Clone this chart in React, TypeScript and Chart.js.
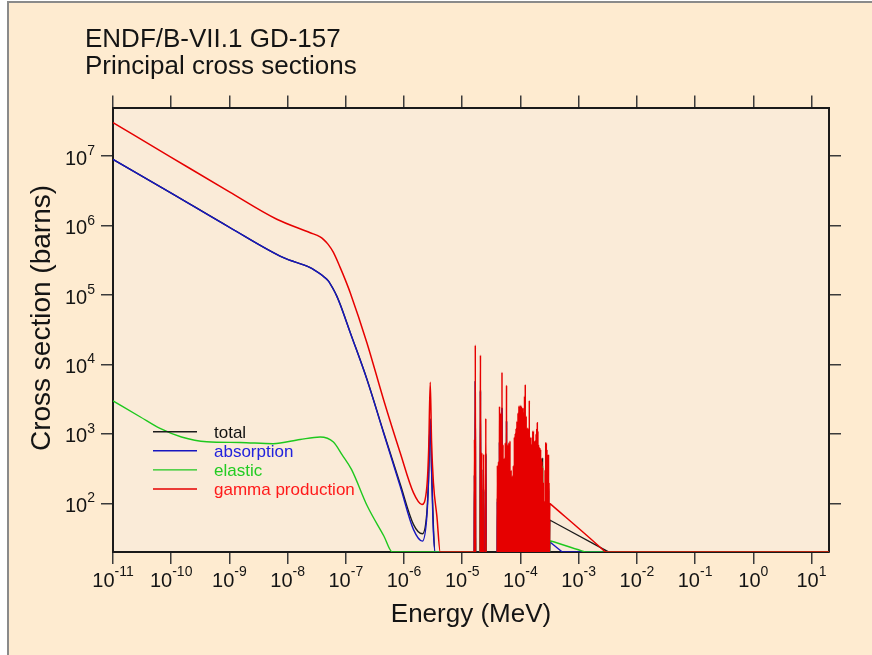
import React, { useEffect, useRef } from "react";
import { Chart, registerables } from "chart.js";

Chart.register(...registerables);

// ---------------- axis ranges & ticks ----------------
const X_MIN = 1e-11;
const X_MAX = 20;
const Y_MIN = 20;
const Y_MAX = 5e7;
const VALLEY = 10; // cross section between resolved resonances (below plot floor)
const xTickExponents = [-11, -10, -9, -8, -7, -6, -5, -4, -3, -2, -1, 0, 1];
const yTickExponents = [2, 3, 4, 5, 6, 7];

const titleLines = ["ENDF/B-VII.1 GD-157", "Principal cross sections"];
const xAxisTitle = "Energy (MeV)";
const yAxisTitle = "Cross section (barns)";
const seriesNames = ["total", "absorption", "elastic", "gamma production"];

// ---------------- low-energy (smooth) part, MeV / barns ----------------
const gammaLowE = [1e-11, 1e-10, 1e-9, 6.52e-9, 2.44e-8, 3.62e-8, 4.12e-8, 4.97e-8, 6.12e-8, 7.98e-8, 9.72e-8, 1.19e-7, 2.3e-7, 4.44e-7, 8.59e-7, 1.45e-6, 2.03e-6, 2.47e-6, 2.65e-6, 2.82e-6, 2.97e-6, 3.2e-6, 3.67e-6, 4.19e-6];
const gammaLowXS = [3.03e7, 9.6e6, 3.05e6, 1.23e6, 7.89e5, 6.87e5, 6.32e5, 5.36e5, 4.11e5, 2.5e5, 1.68e5, 1.08e5, 2.06e4, 3.14e3, 537, 143, 96.8, 177, 600, 5570, 800, 199, 65, 20];

const absLowE = [1e-11, 1e-10, 1e-9, 8.48e-9, 2.44e-8, 3.62e-8, 4.12e-8, 4.97e-8, 6.12e-8, 6.95e-8, 7.98e-8, 1.19e-7, 2.3e-7, 4.44e-7, 8.59e-7, 1.45e-6, 2.07e-6, 2.47e-6, 2.63e-6, 2.82e-6, 2.99e-6, 3.2e-6, 3.43e-6];
const absLowXS = [8.96e6, 2.93e6, 9.44e5, 3.44e5, 2.47e5, 2.01e5, 1.85e5, 1.6e5, 1.2e5, 9.7e4, 7.33e4, 2.87e4, 6.1e3, 1.04e3, 177, 42.3, 28.7, 65.6, 199, 1620, 250, 37.8, 20];

const totalLowE = [1e-11, 1e-10, 1e-9, 8.48e-9, 2.44e-8, 3.62e-8, 4.12e-8, 4.97e-8, 6.12e-8, 6.95e-8, 7.98e-8, 1.19e-7, 2.3e-7, 4.44e-7, 8.59e-7, 1.45e-6, 2.07e-6, 2.47e-6, 2.63e-6, 2.82e-6, 2.99e-6, 3.2e-6, 3.43e-6];
const totalLowXS = [8.97e6, 2.93e6, 9.45e5, 3.45e5, 2.48e5, 2.02e5, 1.86e5, 1.61e5, 1.21e5, 9.8e4, 7.4e4, 2.9e4, 6.2e3, 1.07e3, 190, 50, 36.6, 75, 215, 1650, 270, 45, 20];

const elasLowE = [1e-11, 2.91e-11, 6.43e-11, 1.5e-10, 4.08e-10, 1.52e-9, 5.64e-9, 1.64e-8, 3.62e-8, 6.12e-8, 8.65e-8, 1.25e-7, 2.35e-7, 4.5e-7, 6.3e-7];
const elasLowXS = [3000, 1770, 1200, 905, 773, 755, 724, 834, 905, 767, 500, 309, 91, 34, 20];

// ---------------- resolved resonances, group A (16-26 eV) ----------------
const resAE = [1.624e-5, 1.677e-5, 2.056e-5, 2.165e-5, 2.333e-5, 2.54e-5];
const gammaA = [835, 19000, 13600, 537, 510, 1670];
const absA = [250, 5800, 4100, 160, 150, 500];
const elasA = [12, 46, 150, 150, 12, 30];
const totalA = [260, 5850, 4250, 310, 160, 530];

// ---------------- resolved resonances, group B (40-310 eV) ----------------
const resBE = [
  4.02e-5, 4.2e-5, 4.37e-5, 4.59e-5, 4.82e-5, 5.02e-5, 5.25e-5, 5.5e-5, 5.77e-5, 6.02e-5,
  6.32e-5, 6.61e-5, 6.92e-5, 7.23e-5, 7.56e-5, 7.86e-5, 8.15e-5, 8.42e-5, 8.71e-5, 9.08e-5,
  9.42e-5, 9.66e-5, 1.002e-4, 1.035e-4, 1.07e-4, 1.104e-4, 1.14e-4, 1.175e-4, 1.21e-4, 1.255e-4,
  1.31e-4, 1.36e-4, 1.42e-4, 1.475e-4, 1.535e-4, 1.585e-4, 1.63e-4, 1.67e-4, 1.715e-4, 1.76e-4,
  1.805e-4, 1.86e-4, 1.905e-4, 1.95e-4, 1.995e-4, 2.045e-4, 2.1e-4, 2.16e-4, 2.22e-4, 2.28e-4,
  2.34e-4, 2.4e-4, 2.47e-4, 2.53e-4, 2.59e-4, 2.655e-4, 2.72e-4, 2.785e-4, 2.85e-4, 2.91e-4,
  2.975e-4, 3.035e-4, 3.095e-4,
];
const gammaB = [
  352, 400, 2490, 2000, 7760, 700, 450, 750, 5000, 700,
  750, 790, 300, 250, 350, 900, 1020, 1200, 1530, 2000,
  2520, 2520, 2600, 2500, 2300, 2390, 2000, 3500, 5170, 1800,
  1230, 1200, 3040, 900, 708, 900, 1100, 1100, 800, 750,
  790, 1000, 1200, 1450, 1100, 708, 650, 634, 600, 450,
  406, 330, 200, 108, 108, 300, 750, 740, 600, 507,
  450, 507, 200,
];
// additional weaker gamma-production resonances lying between the ones above
const gammaFillE = [
  4.11e-5, 4.28e-5, 4.48e-5, 4.7e-5, 4.92e-5, 5.13e-5, 5.37e-5, 5.63e-5, 5.89e-5, 6.17e-5,
  6.46e-5, 6.76e-5, 7.07e-5, 7.39e-5, 7.71e-5, 8.0e-5, 8.28e-5, 8.56e-5, 8.89e-5, 9.25e-5,
  9.54e-5, 9.84e-5, 1.018e-4, 1.052e-4, 1.087e-4, 1.122e-4, 1.157e-4, 1.192e-4, 1.232e-4, 1.282e-4,
  1.335e-4, 1.39e-4, 1.447e-4, 1.505e-4, 1.56e-4, 1.607e-4, 1.65e-4, 1.692e-4, 1.737e-4, 1.782e-4,
  1.832e-4, 1.882e-4, 1.927e-4, 1.972e-4, 2.02e-4, 2.072e-4, 2.13e-4, 2.19e-4, 2.25e-4, 2.31e-4,
  2.37e-4, 2.435e-4, 2.5e-4, 2.56e-4, 2.622e-4, 2.687e-4, 2.752e-4, 2.817e-4, 2.88e-4, 2.942e-4,
  3.005e-4, 3.065e-4,
];
const gammaFillXS = [
  350, 380, 1500, 1800, 650, 420, 430, 700, 650, 680,
  720, 280, 240, 240, 330, 850, 1000, 1150, 1400, 1900,
  2300, 2450, 2400, 2200, 2250, 1900, 1950, 3000, 1700, 1150,
  1100, 1150, 850, 680, 680, 850, 1000, 780, 720, 720,
  760, 950, 1150, 1050, 680, 620, 600, 580, 430, 390,
  310, 190, 100, 100, 100, 290, 700, 580, 480, 430,
  440, 190,
];
const absB = [
  107, 121, 755, 606, 2350, 212, 136, 227, 1515, 212,
  227, 239, 91, 76, 106, 273, 309, 364, 464, 606,
  764, 764, 788, 758, 697, 724, 606, 1060, 1567, 545,
  373, 364, 921, 273, 215, 273, 333, 333, 242, 227,
  239, 303, 364, 439, 333, 215, 197, 192, 182, 136,
  123, 100, 61, 33, 33, 91, 227, 224, 182, 154,
  136, 154, 61,
];
const elasB = [
  12, 12, 12, 12, 60, 12, 12, 12, 40, 12,
  12, 12, 12, 12, 12, 12, 30, 12, 12, 12,
  12, 12, 35, 12, 12, 12, 12, 12, 40, 12,
  12, 12, 30, 12, 12, 12, 12, 12, 12, 12,
  12, 12, 12, 12, 12, 12, 12, 12, 12, 12,
  12, 350, 12, 12, 12, 12, 12, 12, 12, 12,
  12, 12, 12,
];
const totalB = [
  119, 133, 767, 618, 2410, 224, 148, 239, 1555, 224,
  239, 251, 103, 88, 118, 285, 339, 376, 476, 618,
  776, 776, 823, 770, 709, 736, 618, 1072, 1607, 557,
  385, 376, 951, 285, 227, 285, 345, 345, 254, 239,
  251, 315, 376, 451, 345, 227, 209, 204, 194, 148,
  135, 455, 73, 45, 45, 103, 239, 236, 194, 166,
  148, 166, 73,
];

// ---------------- unresolved tail (above 320 eV) ----------------
const gammaTailE = [3.2e-4, 3.3e-4, 2.8e-3, 2.87e-3];
const gammaTailXS = [100, 97.8, 20.4, 20];
const totalTailE = [3.2e-4, 3.3e-4, 3.2e-3, 3.27e-3];
const totalTailXS = [57.6, 56.8, 20.2, 20];
const absTailE = [3.2e-4, 3.3e-4, 5.1e-4, 5.2e-4];
const absTailXS = [28, 27.4, 20.3, 20];
const elasTailE = [3.2e-4, 3.3e-4, 1.25e-3, 1.3e-3];
const elasTailXS = [29, 28.8, 20.2, 20];

// ---------------- styling ----------------
const FONT = '"Liberation Sans", Arial, Helvetica, sans-serif';
const OUTER_BG = "#feebd0";
const INNER_BG = "#faebd8";
const TEXT = "#141414";
const LINE_COLORS = ["#1c1c1c", "#1616c0", "#1ec81e", "#e60000"];
const LEGEND_TEXT_COLORS = ["#111111", "#2222dd", "#22cc22", "#ff1a1a"];

type P = { x: number; y: number };
const zip = (es: number[], vs: number[]): P[] => es.map((e, i) => ({ x: e, y: vs[i] }));
function spikes(es: number[], vs: number[], w: number): P[] {
  const out: P[] = [];
  es.forEach((e, i) => {
    out.push({ x: e / w, y: VALLEY });
    out.push({ x: e, y: vs[i] });
    out.push({ x: e * w, y: VALLEY });
  });
  return out;
}
function buildSeries(
  lowE: number[], lowXS: number[], a: number[], b: number[],
  tE: number[], tXS: number[], extraE: number[] = [], extraXS: number[] = []
): P[] {
  const groupB = [...spikes(resBE, b, 1.008), ...spikes(extraE, extraXS, 1.008)].sort((p, q) => p.x - q.x);
  return [
    ...zip(lowE, lowXS),
    { x: resAE[0] / 1.02, y: Y_MIN },
    ...spikes(resAE, a, 1.012),
    ...groupB,
    ...zip(tE, tXS),
    { x: X_MAX, y: Y_MIN },
  ];
}

const decorPlugin = {
  id: "decor",
  beforeDraw(chart: any) {
    const { ctx, chartArea: a, width, height } = chart;
    ctx.save();
    ctx.fillStyle = "#ffffff";
    ctx.fillRect(0, 0, width, height);
    ctx.fillStyle = OUTER_BG;
    ctx.fillRect(9, 3, width - 9, height - 3);
    ctx.fillStyle = "#8a8a8a";
    ctx.fillRect(7, 1, 2, height - 1);
    ctx.fillRect(7, 1, width - 7, 2);
    ctx.fillStyle = INNER_BG;
    ctx.fillRect(a.left, a.top, a.right - a.left, a.bottom - a.top);
    ctx.restore();
  },
  afterDraw(chart: any) {
    const { ctx, chartArea: a } = chart;
    const xs = chart.scales.x;
    const ys = chart.scales.y;
    ctx.save();
    ctx.fillStyle = TEXT;
    ctx.textBaseline = "alphabetic";
    ctx.textAlign = "left";
    // title
    ctx.font = `26px ${FONT}`;
    ctx.fillText(titleLines[0], 85, 46.5);
    ctx.fillText(titleLines[1], 85, 73.5);
    // x tick labels
    for (const e of xTickExponents) {
      const px = xs.getPixelForValue(Math.pow(10, e));
      const sup = String(e);
      ctx.font = `20px ${FONT}`;
      const w1 = ctx.measureText("10").width;
      ctx.font = `14px ${FONT}`;
      const w2 = ctx.measureText(sup).width;
      const x0 = px - (w1 + w2) / 2;
      ctx.font = `20px ${FONT}`;
      ctx.fillText("10", x0, 587);
      ctx.font = `14px ${FONT}`;
      ctx.fillText(sup, x0 + w1, 576);
    }
    // y tick labels
    for (const e of yTickExponents) {
      const py = ys.getPixelForValue(Math.pow(10, e));
      const sup = String(e);
      ctx.font = `14px ${FONT}`;
      const w2 = ctx.measureText(sup).width;
      ctx.font = `20px ${FONT}`;
      const w1 = ctx.measureText("10").width;
      const right = 95;
      ctx.fillText("10", right - w2 - w1, py + 8.5);
      ctx.font = `14px ${FONT}`;
      ctx.fillText(sup, right - w2, py - 1);
    }
    // axis titles
    ctx.font = `26px ${FONT}`;
    ctx.textAlign = "center";
    ctx.fillText(xAxisTitle, (a.left + a.right) / 2, 622);
    ctx.save();
    ctx.font = `28px ${FONT}`;
    ctx.translate(50, 318);
    ctx.rotate(-Math.PI / 2);
    ctx.fillText(yAxisTitle, 0, 0);
    ctx.restore();
    // legend
    ctx.textAlign = "left";
    ctx.font = `17px ${FONT}`;
    seriesNames.forEach((name, i) => {
      const y = 431.7 + i * 19.1;
      ctx.strokeStyle = LINE_COLORS[i];
      ctx.lineWidth = 1.4;
      ctx.beginPath();
      ctx.moveTo(153, y);
      ctx.lineTo(197, y);
      ctx.stroke();
      ctx.fillStyle = LEGEND_TEXT_COLORS[i];
      ctx.fillText(name, 214, y + 6);
    });
    ctx.restore();
  },
};

function logAxis(position: string, decades: number[], min: number, max: number) {
  return {
    type: "logarithmic" as const,
    position,
    min,
    max,
    afterBuildTicks: (scale: any) => {
      scale.ticks = decades.map((e) => ({ value: Math.pow(10, e) }));
    },
    afterFit: (scale: any) => {
      if (scale.isHorizontal()) scale.height = 0;
      else scale.width = 0;
    },
    ticks: { display: false },
    grid: {
      drawOnChartArea: false,
      drawTicks: true,
      tickLength: 12,
      tickColor: "#3a3a3a",
      tickWidth: 1.5,
      lineWidth: 1.5,
      color: "#3a3a3a",
    },
    border: { display: true, color: "#1a1a1a", width: 2 },
    title: { display: false },
  };
}

export default function App() {
  const canvasRef = useRef<HTMLCanvasElement | null>(null);

  useEffect(() => {
    if (!canvasRef.current) return;
    const datasets = [
      { label: seriesNames[0], data: buildSeries(totalLowE, totalLowXS, totalA, totalB, totalTailE, totalTailXS), borderColor: LINE_COLORS[0], order: 4, borderWidth: 1.4 },
      { label: seriesNames[1], data: buildSeries(absLowE, absLowXS, absA, absB, absTailE, absTailXS), borderColor: LINE_COLORS[1], order: 3, borderWidth: 1.4 },
      { label: seriesNames[2], data: buildSeries(elasLowE, elasLowXS, elasA, elasB, elasTailE, elasTailXS), borderColor: LINE_COLORS[2], order: 2, borderWidth: 1.4 },
      { label: seriesNames[3], data: buildSeries(gammaLowE, gammaLowXS, gammaA, gammaB, gammaTailE, gammaTailXS, gammaFillE, gammaFillXS), borderColor: LINE_COLORS[3], order: 1, borderWidth: 1.5 },
    ].map((d) => ({ ...d, pointRadius: 0, fill: false, cubicInterpolationMode: "monotone" as const }));

    const chart = new Chart(canvasRef.current, {
      type: "line",
      data: { datasets },
      options: {
        animation: false,
        responsive: false,
        events: [],
        layout: { padding: { left: 113, right: 43, top: 107.5, bottom: 103 } },
        plugins: { legend: { display: false }, tooltip: { enabled: false }, title: { display: false } },
        scales: {
          x: logAxis("bottom", xTickExponents, X_MIN, X_MAX),
          x2: logAxis("top", xTickExponents, X_MIN, X_MAX),
          y: logAxis("left", yTickExponents, Y_MIN, Y_MAX),
          y2: logAxis("right", yTickExponents, Y_MIN, Y_MAX),
        } as any,
      },
      plugins: [decorPlugin],
    });
    return () => chart.destroy();
  }, []);

  return (
    <div style={{ position: "fixed", left: 0, top: 0, width: 872, height: 655 }}>
      <canvas ref={canvasRef} width={872} height={655} style={{ display: "block" }} />
    </div>
  );
}
